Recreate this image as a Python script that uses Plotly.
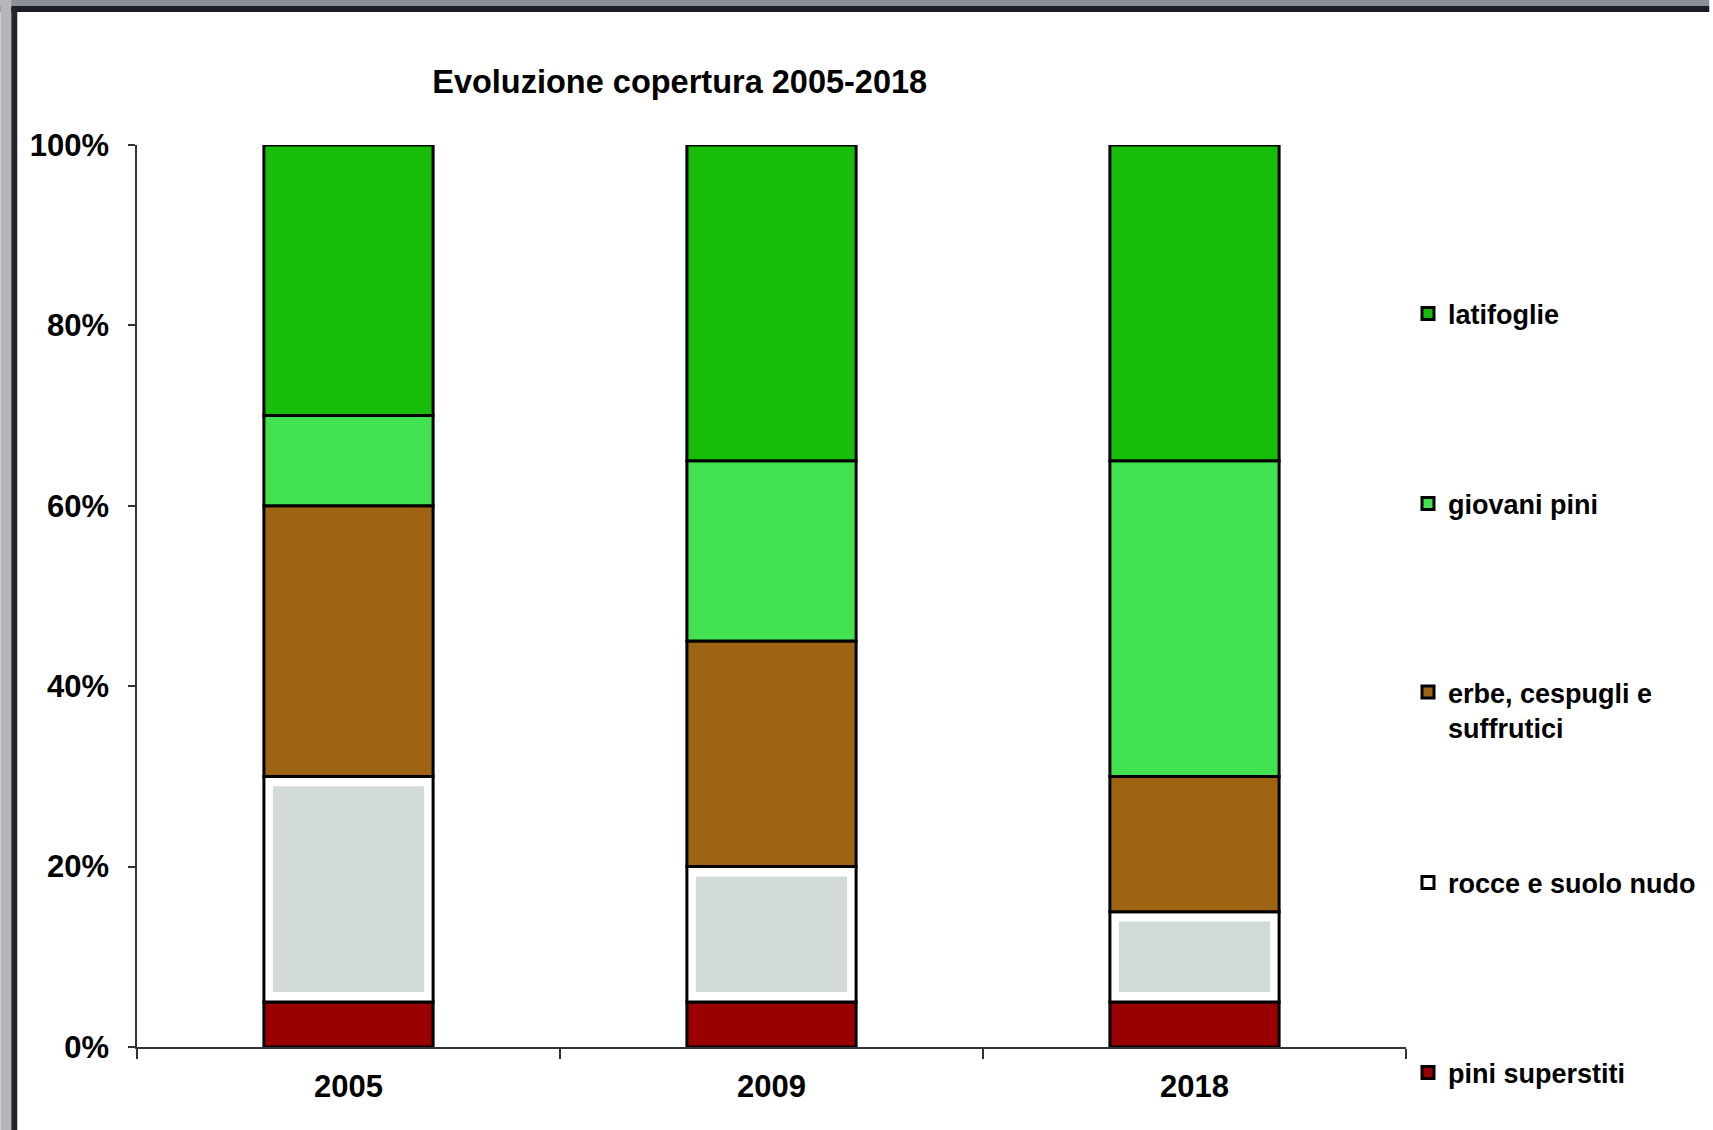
import plotly.graph_objects as go

years = ["2005", "2009", "2018"]
series_names = ["pini superstiti", "rocce e suolo nudo", "erbe, cespugli e<br>suffrutici", "giovani pini", "latifoglie"]
pini_superstiti = [5, 5, 5]
rocce_suolo = [25, 15, 10]
erbe_cespugli = [30, 25, 15]
giovani_pini = [10, 20, 35]
latifoglie = [30, 35, 35]
y_ticks = [0, 20, 40, 60, 80, 100]
y_tick_labels = [f"{v}%" for v in y_ticks]

series_values = [pini_superstiti, rocce_suolo, erbe_cespugli, giovani_pini, latifoglie]
colors = ["#990000", "#FFFFFF", "#9E6414", "#42E250", "#16BE0A"]
rocce_inner_color = "#D1DAD9"

W, H = 1713, 1130
L, R, T, B = 137, 1409, 145, 1047
FONT = "Liberation Sans, Arial, sans-serif"
BAR_W = 0.4

def px_x(px):
    return (px - L) / (R - L)

def px_y(py):
    return (B - py) / (B - T)

# legend vertical centres (pixels) per series
legend_y = [1073, 883, 710, 504, 314]

# stacked bases computed from the data
bases = []
running = [0] * len(years)
for vals in series_values:
    bases.append(list(running))
    running = [a + b for a, b in zip(running, vals)]

fig = go.Figure()
for i, (name, vals, col) in enumerate(zip(series_names, series_values, colors)):
    lg = "legend" if i == 0 else f"legend{i+1}"
    fig.add_trace(go.Bar(
        x=years, y=vals, base=bases[i], name=name, width=BAR_W,
        marker=dict(color=col, line=dict(color="#000000", width=3)),
        legend=lg,
    ))
    if i == 1:
        # grey body of the rock segment, leaving a white rim
        inset_y = 1.1
        fig.add_trace(go.Bar(
            x=years, y=[v - 2 * inset_y for v in vals],
            base=[b + inset_y for b in bases[i]],
            width=BAR_W - 2 * 9 / 424,
            marker=dict(color=rocce_inner_color, line=dict(width=0)),
            showlegend=False, hoverinfo="skip",
        ))

layout_legends = {}
for i in range(len(series_names)):
    key = "legend" if i == 0 else f"legend{i+1}"
    layout_legends[key] = dict(
        x=px_x(1411), xanchor="left",
        y=px_y(legend_y[i]), yanchor="middle",
        bgcolor="rgba(0,0,0,0)", borderwidth=0,
        font=dict(family=FONT, size=27, color="#000000", weight="bold"),
        valign="top", itemclick=False, itemdoubleclick=False,
    )

fig.update_layout(
    width=W, height=H,
    margin=dict(l=L, r=W - R, t=T, b=H - B, pad=0),
    paper_bgcolor="#ffffff", plot_bgcolor="#ffffff",
    barmode="overlay",
    showlegend=True,
    title=dict(
        text="Evoluzione copertura 2005-2018",
        x=px_x(681), xref="paper", xanchor="center",
        y=1 - 82 / H, yref="container", yanchor="middle",
        font=dict(family=FONT, size=32.5, color="#000000", weight="bold"),
    ),
    xaxis=dict(
        showline=True, linecolor="#333333", linewidth=2,
        ticks="outside", tickson="boundaries", ticklen=10, tickcolor="#333333", tickwidth=2,
        tickfont=dict(family=FONT, size=31, color="#000000", weight="bold"),
        ticklabelstandoff=11,
        showgrid=False, zeroline=False,
    ),
    yaxis=dict(
        range=[0, 100], tickmode="array", tickvals=y_ticks, ticktext=y_tick_labels,
        showline=True, linecolor="#333333", linewidth=1.5,
        ticks="outside", ticklen=7, tickcolor="#333333", tickwidth=1.5,
        tickfont=dict(family=FONT, size=31, color="#000000", weight="bold"),
        ticklabelstandoff=13,
        showgrid=False, zeroline=False,
    ),
    **layout_legends,
)

# window frame (top and left dark borders of the original screenshot)
shapes = [
    dict(type="rect", xref="paper", yref="paper", x0=px_x(0), x1=px_x(W), y0=px_y(0), y1=px_y(6),
         fillcolor="#8d9097", line=dict(width=0), layer="above"),
    dict(type="rect", xref="paper", yref="paper", x0=px_x(0), x1=px_x(W), y0=px_y(6), y1=px_y(12),
         fillcolor="#1b1e25", line=dict(width=0), layer="above"),
    dict(type="rect", xref="paper", yref="paper", x0=px_x(0), x1=px_x(11), y0=px_y(H), y1=px_y(0),
         fillcolor="#b4b6b9", line=dict(width=0), layer="above"),
    dict(type="rect", xref="paper", yref="paper", x0=px_x(11), x1=px_x(17), y0=px_y(H), y1=px_y(8),
         fillcolor="#23262d", line=dict(width=0), layer="above"),
]
fig.update_layout(shapes=shapes)

fig.write_html("out.html", config={"displayModeBar": False},
               post_script="document.body.style.margin='0';")
